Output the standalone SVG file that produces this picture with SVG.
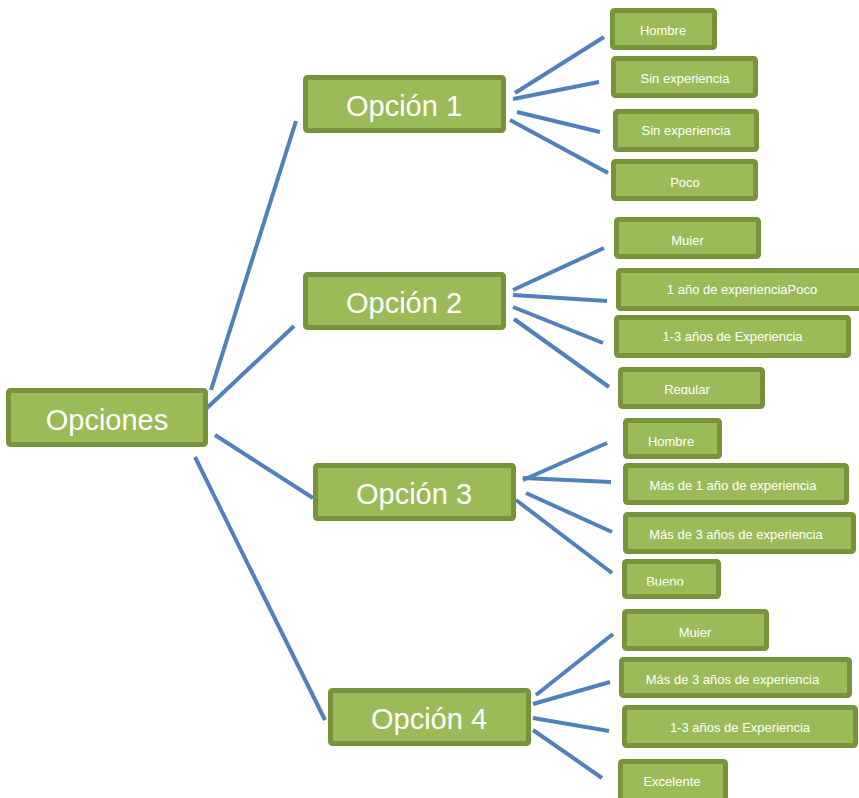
<svg xmlns="http://www.w3.org/2000/svg" width="859" height="798" viewBox="0 0 859 798">
<style>
.box{fill:#9bbb59;stroke:#77933c;stroke-width:5}
.big{font-family:"Liberation Sans",Arial,sans-serif;font-size:29px;fill:#fff;text-anchor:middle}
.sm{font-family:"Liberation Sans",Arial,sans-serif;font-size:13px;fill:#fff;text-anchor:middle}
.con line{stroke:#4f81bd;stroke-width:4;stroke-linecap:butt}
</style>
<defs>
<clipPath id="c5"><rect x="600" y="200" width="200" height="45.5"/></clipPath>
<clipPath id="c8"><rect x="600" y="360" width="200" height="34.5"/></clipPath>
<clipPath id="c12"><rect x="600" y="550" width="200" height="35.5"/></clipPath>
<clipPath id="c13"><rect x="600" y="600" width="200" height="37"/></clipPath>
</defs>
<rect width="859" height="798" fill="#fff"/>
<g class="con" id="connectors">
<line x1="211" y1="390" x2="296" y2="121"/>
<line x1="207" y1="408" x2="294" y2="326"/>
<line x1="215" y1="435" x2="313" y2="498"/>
<line x1="195" y1="457" x2="325" y2="720"/>
<line x1="515" y1="93" x2="604" y2="37"/>
<line x1="513" y1="99" x2="599" y2="82"/>
<line x1="517" y1="112" x2="600" y2="132"/>
<line x1="510" y1="120" x2="608" y2="173"/>
<line x1="513" y1="290" x2="604" y2="248"/>
<line x1="513" y1="295" x2="607" y2="301"/>
<line x1="513" y1="307" x2="603" y2="343"/>
<line x1="514" y1="319" x2="609" y2="387"/>
<line x1="523" y1="480" x2="607" y2="443"/>
<line x1="523" y1="478" x2="611" y2="482"/>
<line x1="526" y1="493" x2="612" y2="532"/>
<line x1="516" y1="500" x2="612" y2="573"/>
<line x1="536" y1="695" x2="613" y2="634"/>
<line x1="533" y1="704" x2="610" y2="682"/>
<line x1="533" y1="718" x2="609" y2="731"/>
<line x1="533" y1="730" x2="602" y2="778"/>
</g>
<g id="opciones"><rect class="box" x="8.5" y="390.5" width="197" height="54" rx="2"/><text class="big" x="107" y="430">Opciones</text></g>
<g id="opcion1"><rect class="box" x="305.5" y="77.5" width="198" height="53" rx="2"/><text class="big" x="404" y="116">Opción 1</text></g>
<g id="opcion2"><rect class="box" x="305.5" y="274.5" width="198" height="53" rx="2"/><text class="big" x="404" y="313">Opción 2</text></g>
<g id="opcion3"><rect class="box" x="315.5" y="465.5" width="198" height="53" rx="2"/><text class="big" x="414" y="504">Opción 3</text></g>
<g id="opcion4"><rect class="box" x="330.5" y="690.5" width="198" height="53" rx="2"/><text class="big" x="429" y="729">Opción 4</text></g>
<g id="n1"><rect class="box" x="612.5" y="10.5" width="102" height="37" rx="2"/><text class="sm" x="663" y="35">Hombre</text></g>
<g id="n2"><rect class="box" x="613.5" y="58.5" width="142" height="37" rx="2"/><text class="sm" x="685" y="82.5">Sin experiencia</text></g>
<g id="n3"><rect class="box" x="615.5" y="111.5" width="141" height="38" rx="2"/><text class="sm" x="686" y="135">Sin experiencia</text></g>
<g id="n4"><rect class="box" x="613.5" y="161.5" width="142" height="37" rx="2"/><text class="sm" x="685" y="186.5">Poco</text></g>
<g id="n5"><rect class="box" x="616.5" y="219.5" width="142" height="37" rx="2"/><text class="sm" x="687.5" y="245" clip-path="url(#c5)">Mujer</text></g>
<g id="n6"><rect class="box" x="618.5" y="270.5" width="252" height="38" rx="2"/><text class="sm" x="742" y="294">1 año de experienciaPoco</text></g>
<g id="n7"><rect class="box" x="616.5" y="317.5" width="232" height="38" rx="2"/><text class="sm" x="732.5" y="341">1-3 años de Experiencia</text></g>
<g id="n8"><rect class="box" x="620.5" y="369.5" width="142" height="37" rx="2"/><text class="sm" x="687" y="394" clip-path="url(#c8)">Regular</text></g>
<g id="n9"><rect class="box" x="625.5" y="420.5" width="94" height="36" rx="2"/><text class="sm" x="671" y="445.5">Hombre</text></g>
<g id="n10"><rect class="box" x="625.5" y="465.5" width="221" height="37" rx="2"/><text class="sm" x="733" y="490">Más de 1 año de experiencia</text></g>
<g id="n11"><rect class="box" x="625.5" y="514.5" width="228" height="37" rx="2"/><text class="sm" x="736" y="538.5">Más de 3 años de experiencia</text></g>
<g id="n12"><rect class="box" x="624.5" y="561.5" width="94" height="35" rx="2"/><text class="sm" x="665" y="586" clip-path="url(#c12)">Bueno</text></g>
<g id="n13"><rect class="box" x="624.5" y="611.5" width="142" height="37" rx="2"/><text class="sm" x="695" y="636.5" clip-path="url(#c13)">Mujer</text></g>
<g id="n14"><rect class="box" x="621.5" y="659.5" width="228" height="36" rx="2"/><text class="sm" x="732.5" y="683.5">Más de 3 años de experiencia</text></g>
<g id="n15"><rect class="box" x="624.5" y="707.5" width="231" height="38" rx="2"/><text class="sm" x="740" y="731.5">1-3 años de Experiencia</text></g>
<g id="n16"><rect class="box" x="620.5" y="761.5" width="105" height="45" rx="2"/><text class="sm" x="672" y="785.5">Excelente</text></g>
</svg>
